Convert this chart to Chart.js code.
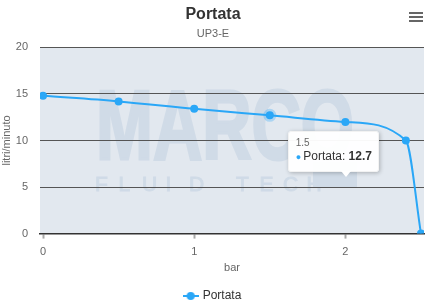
<!DOCTYPE html>
<html>
<head>
<meta charset="utf-8">
<script src="https://cdn.jsdelivr.net/npm/chart.js@4/dist/chart.umd.min.js"></script>
<style>
  body { margin: 0; background: #fff; font-family: "Liberation Sans", Arial, sans-serif; }
  #wrap { position: relative; width: 428px; height: 303px; }
  #menu { position: absolute; left: 409px; top: 12px; width: 14px; }
  #menu div { height: 2px; background: #666; margin-bottom: 2px; }
  #tip {
    position: absolute; background: rgba(255,255,255,0.96); border: 1px solid #f2f2f2;
    border-radius: 3px; box-shadow: 1px 1px 4px rgba(0,0,0,0.25);
    padding: 5px 6px 6px 7px; white-space: nowrap; pointer-events: none; display: none;
  }
  #tip .t { font-size: 10px; color: #666; line-height: 12px; }
  #tip .b { font-size: 12px; color: #333; line-height: 15px; }
  #tip .dot { color: #2aa7f7; font-size: 9px; margin-right: 2px; }
  #tip .caret {
    position: absolute; bottom: -6px; width: 0; height: 0;
    border-left: 5px solid transparent; border-right: 5px solid transparent;
    border-top: 6px solid #fff;
  }
</style>
</head>
<body>
<div id="wrap">
  <canvas id="chart" width="428" height="303"></canvas>
  <div id="menu"><div></div><div></div><div></div></div>
  <div id="tip"></div>
</div>
<script>
// data
const pressureBar = [0, 0.5, 1, 1.5, 2, 2.4, 2.5];
const flowLitriMin = [14.8, 14.2, 13.4, 12.7, 12.0, 10.0, 0];
const yTicks = [0, 5, 10, 15, 20];
const xTicks = [0, 1, 2];

const seriesName = "Portata";
const blue = "#2aa7f7";
const font = "'Liberation Sans', Arial, sans-serif";

const points = pressureBar.map((p, i) => ({ x: p, y: flowLitriMin[i] }));

// ------------------ PLUGINS ------------------
const plotBg = {
  id: "plotBg",
  beforeDraw(chart) {
    const a = chart.chartArea;
    const c = chart.ctx;
    c.save();
    c.fillStyle = "#e2e8ef";
    c.fillRect(a.left, a.top, a.right - a.left, a.bottom - a.top);

    // watermark logo
    c.fillStyle = "#d0dbe7";
    c.strokeStyle = "#d0dbe7";
    c.save();
    c.font = "bold 98px " + font;
    c.textBaseline = "alphabetic";
    const w = c.measureText("MARCO").width;
    c.translate(a.left + 56, a.top + 112);
    c.scale(258 / w, 1);
    c.lineWidth = 3;
    c.fillText("MARCO", 0, 0);
    c.strokeText("MARCO", 0, 0);
    c.restore();

    c.font = "21px " + font;
    c.lineWidth = 1;
    const letters = "FLUID TECH";
    for (let i = 0; i < letters.length; i++) {
      c.fillText(letters[i], a.left + 55 + i * 23.5, a.top + 138);
      c.strokeText(letters[i], a.left + 55 + i * 23.5, a.top + 138);
    }
    c.fillRect(a.left + 273, a.top + 114, 44, 26);
    c.restore();
  }
};

// ------------------ TOOLTIP ------------------
function htmlTooltip(context) {
  const tip = document.getElementById("tip");
  const model = context.tooltip;
  if (model.opacity === 0) { tip.style.display = "none"; return; }
  const dp = model.dataPoints[0];
  tip.innerHTML =
    '<div class="t">' + dp.parsed.x + '</div>' +
    '<div class="b"><span class="dot">\u25CF</span>' + seriesName + ': <b>' + dp.parsed.y.toFixed(1) + '</b></div>' +
    '<div class="caret" style="left:52px"></div>';
  tip.style.display = "block";
  tip.style.left = (model.caretX + 18) + "px";
  tip.style.top = (model.caretY + 16) + "px";
}

// legend marker: line with a dot
function legendMarker() {
  const m = document.createElement("canvas");
  m.width = 16; m.height = 10;
  const g = m.getContext("2d");
  g.strokeStyle = blue; g.lineWidth = 2;
  g.beginPath(); g.moveTo(0, 5); g.lineTo(16, 5); g.stroke();
  g.fillStyle = blue;
  g.beginPath(); g.arc(8, 5, 4, 0, Math.PI * 2); g.fill();
  return m;
}
const marker = legendMarker();

// ------------------ CHART ------------------
const chart = new Chart(document.getElementById("chart"), {
  type: "line",
  data: {
    datasets: [{
      label: seriesName,
      data: points,
      borderColor: blue,
      backgroundColor: blue,
      borderWidth: 2,
      cubicInterpolationMode: "monotone",
      pointRadius: 4,
      pointBorderWidth: 0,
      pointHoverRadius: 4,
      pointHoverBorderWidth: 5,
      pointHoverBorderColor: "rgba(42,167,247,0.3)",
      pointHoverBackgroundColor: blue
    }]
  },
  options: {
    responsive: false,
    animation: false,
    layout: { padding: { left: 0, right: 2, top: 1, bottom: -9 } },
    plugins: {
      title: {
        display: true, text: "Portata", color: "#333",
        font: { family: font, size: 16, weight: "bold" },
        padding: { top: 4, bottom: 0 }
      },
      subtitle: {
        display: true, text: "UP3-E", color: "#666",
        font: { family: font, size: 11 },
        padding: { top: 3, bottom: 7 }
      },
      legend: {
        position: "bottom",
        labels: {
          color: "#333", font: { family: font, size: 12 },
          padding: 2, usePointStyle: true,
          generateLabels: () => [{ text: seriesName, pointStyle: marker, fontColor: "#333", datasetIndex: 0 }]
        }
      },
      tooltip: { enabled: false, external: htmlTooltip }
    },
    scales: {
      x: {
        type: "linear", min: -0.02, max: 2.52,
        afterBuildTicks: s => { s.ticks = xTicks.map(v => ({ value: v })); },
        ticks: { color: "#666", font: { family: font, size: 11 }, padding: 7 },
        grid: { drawOnChartArea: false, tickLength: 5, tickColor: "#aaa", tickWidth: 2 },
        border: { color: "#333", width: 1.5 },
        title: { display: true, text: "bar", color: "#666", font: { family: font, size: 11 }, padding: { top: -4, bottom: 13 } }
      },
      y: {
        min: 0, max: 20,
        afterBuildTicks: s => { s.ticks = yTicks.map(v => ({ value: v })); },
        afterFit: s => { s.width = 40; },
        ticks: { color: "#666", font: { family: font, size: 11 }, padding: 12 },
        grid: { color: "#555", drawTicks: false },
        border: { display: false },
        title: { display: true, text: "litri/minuto", color: "#666", font: { family: font, size: 11 }, padding: 0 }
      }
    }
  },
  plugins: [plotBg]
});

chart.setActiveElements([{ datasetIndex: 0, index: 3 }]);
chart.tooltip.setActiveElements([{ datasetIndex: 0, index: 3 }], { x: 0, y: 0 });
chart.update();
</script>
</body>
</html>
